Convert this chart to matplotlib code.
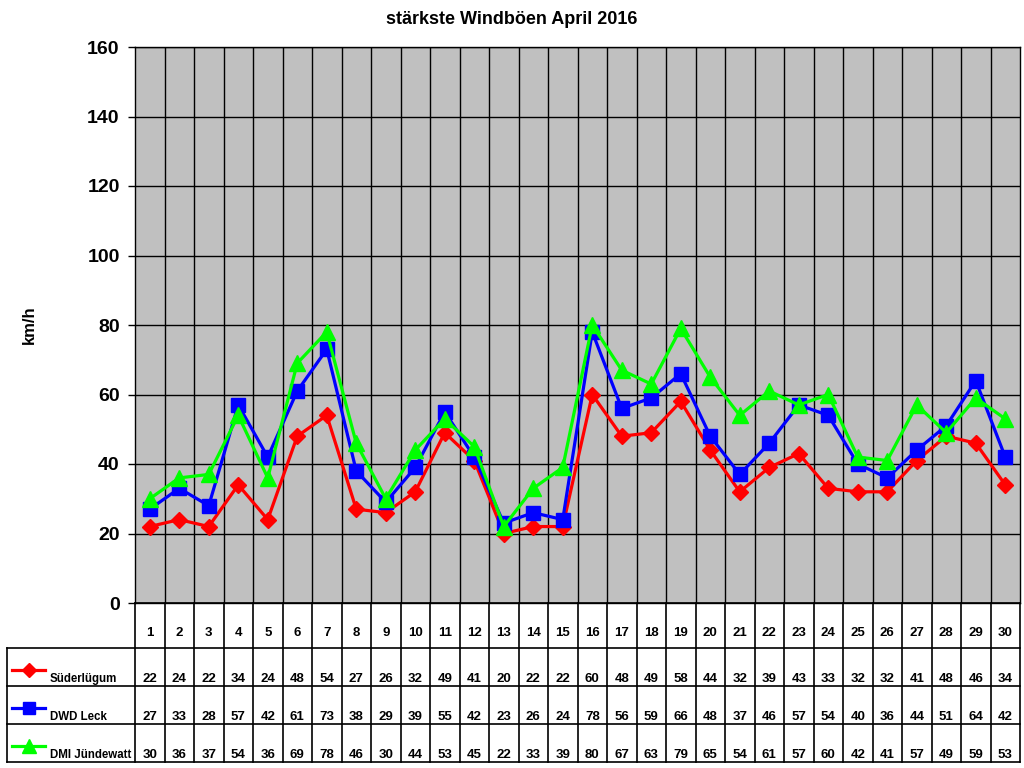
import matplotlib
matplotlib.use("Agg")
import matplotlib.pyplot as plt
from matplotlib.lines import Line2D

plt.rcParams['font.family'] = ['Liberation Sans', 'DejaVu Sans']

days = list(range(1, 31))
sued = [22, 24, 22, 34, 24, 48, 54, 27, 26, 32, 49, 41, 20, 22, 22, 60, 48, 49, 58, 44, 32, 39, 43, 33, 32, 32, 41, 48, 46, 34]
dwd = [27, 33, 28, 57, 42, 61, 73, 38, 29, 39, 55, 42, 23, 26, 24, 78, 56, 59, 66, 48, 37, 46, 57, 54, 40, 36, 44, 51, 64, 42]
dmi = [30, 36, 37, 54, 36, 69, 78, 46, 30, 44, 53, 45, 22, 33, 39, 80, 67, 63, 79, 65, 54, 61, 57, 60, 42, 41, 57, 49, 59, 53]
series_names = ["Süderlügum", "DWD Leck", "DMI Jündewatt"]
series_vals = [sued, dwd, dmi]
colors = ["#FF0000", "#0000FF", "#00FF00"]
markers = ["D", "s", "^"]
msizes = [8, 9.5, 11]
leg_msizes = [7, 8.5, 9.5]
yticks = [0, 20, 40, 60, 80, 100, 120, 140, 160]

W, H = 1024, 768
fig = plt.figure(figsize=(W / 100, H / 100), dpi=100)

def fx(p):
    return p / W

def fy(p):
    return 1 - p / H

L, R, T, B = 135, 1020, 47, 603
ax = fig.add_axes([fx(L), fy(B), fx(R - L), fy(T) - fy(B)])
ax.set_facecolor("#C0C0C0")
ax.set_xlim(0.5, 30.5)
ax.set_ylim(0, 160)
ax.set_yticks(yticks)
ax.set_yticklabels([str(v) for v in yticks], fontsize=14, fontweight='bold')
ax.set_xticks([])
for v in yticks[1:]:
    ax.axhline(v, color='black', lw=1, zorder=1)
for i in range(1, 30):
    ax.axvline(i + 0.5, color='black', lw=1, zorder=1)
for s in ax.spines.values():
    s.set_color('black')
    s.set_linewidth(1)
ax.tick_params(axis='y', direction='out', length=5, width=1, pad=6)

for vals, c, m, ms in zip(series_vals, colors, markers, msizes):
    ax.plot(days, vals, color=c, lw=2.3, marker=m, ms=ms, mec=c, mfc=c, zorder=3, clip_on=False)

ax.set_ylabel("km/h", fontsize=12, fontweight='bold', labelpad=36)
fig.text(0.5, fy(20), "stärkste Windböen April 2016", ha='center', va='center', fontsize=13, fontweight='bold')

# Data table
TB = 762
tax = fig.add_axes([fx(L), fy(TB), fx(R - L), fy(B) - fy(TB)])
tax.set_xlim(0.5, 30.5)
tax.set_ylim(0, TB - B)
tax.axis('off')
colw = (R - L) / 30.0
legL = 0.5 - (L - 7) / colw

def py(p):
    return TB - p

rows = [648, 686, 724, 762]
kw = dict(color='black', lw=1.2, clip_on=False)
tax.add_line(Line2D([0.5, 30.5], [py(B), py(B)], **kw))
for yb in rows:
    tax.add_line(Line2D([legL, 30.5], [py(yb), py(yb)], **kw))
tax.add_line(Line2D([legL, legL], [py(648), py(762)], **kw))
for i in range(31):
    tax.add_line(Line2D([i + 0.5, i + 0.5], [py(B), py(762)], **kw))

for d in days:
    tax.text(d, py(633), str(d), ha='center', va='center', fontsize=9.5, fontweight='bold')

row_text_y = [679, 717, 755]
row_line_y = [670, 708, 746]
for r, (name, vals, c, m, ms) in enumerate(zip(series_names, series_vals, colors, markers, leg_msizes)):
    for d, v in zip(days, vals):
        tax.text(d, py(row_text_y[r]), str(v), ha='center', va='center', fontsize=9.5, fontweight='bold')
    x0 = legL + 5 / colw
    x1 = legL + 38 / colw
    tax.add_line(Line2D([x0, x1], [py(row_line_y[r])] * 2, color=c, lw=2.3, clip_on=False))
    tax.add_line(Line2D([(x0 + x1) / 2], [py(row_line_y[r])], marker=m, ms=ms, color=c, mec=c, clip_on=False))
    tax.text(legL + 43 / colw, py(row_text_y[r]), name, ha='left', va='center', fontsize=8.3, fontweight='bold')

fig.savefig("out.png", dpi=100)
